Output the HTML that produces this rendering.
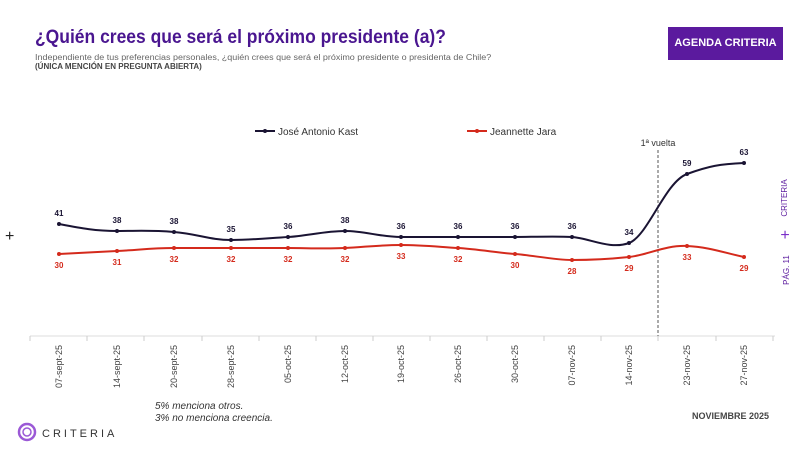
<!DOCTYPE html>
<html><head><meta charset="utf-8"><style>
body{margin:0;width:800px;height:450px;background:#fff;font-family:"Liberation Sans",sans-serif;position:relative;overflow:hidden}
.a{position:absolute;white-space:nowrap}
</style></head><body>
<div class="a" style="left:35px;top:27px;font-size:19px;font-weight:bold;color:#4a1690;transform:scaleX(0.92);transform-origin:left top;">¿Quién crees que será el próximo presidente (a)?</div>
<div class="a" style="left:35px;top:53px;font-size:8px;color:#666;transform:scaleX(1.12);transform-origin:left top;">Independiente de tus preferencias personales, ¿quién crees que será el próximo presidente o presidenta de Chile?</div>
<div class="a" style="left:35px;top:62px;font-size:8px;font-weight:bold;color:#444;">(ÚNICA MENCIÓN EN PREGUNTA ABIERTA)</div>
<div class="a" style="left:668px;top:27px;width:115px;height:33px;background:#5b1a9e;color:#fff;font-size:11px;font-weight:bold;text-align:center;line-height:33px;">AGENDA CRITERIA</div>
<div class="a" style="left:155px;top:401px;font-size:10px;font-style:italic;color:#333;line-height:12px;">5% menciona otros.<br>3% no menciona creencia.</div>
<div class="a" style="left:692px;top:411px;font-size:9px;font-weight:bold;color:#444;">NOVIEMBRE 2025</div>
<div class="a" style="left:5px;top:228px;font-size:16px;color:#222;">+</div>
<svg class="a" style="left:0;top:0" width="800" height="450">
<g transform="translate(787,198) rotate(-90)"><text text-anchor="middle" font-size="8" fill="#5b1a9e" font-family="Liberation Sans">CRITERIA</text></g>
<g transform="translate(789,270) rotate(-90)"><text text-anchor="middle" font-size="8" fill="#5b1a9e" font-family="Liberation Sans">PÁG. 11</text></g>
<text x="785" y="240" text-anchor="middle" font-size="16" fill="#7b2fc9">+</text>
<circle cx="27" cy="432" r="8" fill="none" stroke="#9b59d6" stroke-width="2.5"/>
<circle cx="27" cy="432" r="4" fill="none" stroke="#9b59d6" stroke-width="1.5"/>
<text x="42" y="437" font-size="11" letter-spacing="3" fill="#333" font-family="Liberation Sans">CRITERIA</text>
<line x1="255" y1="131" x2="275" y2="131" stroke="#1a1433" stroke-width="2"/><circle cx="265" cy="131" r="2" fill="#1a1433"/>
<text x="278" y="135" font-size="10" fill="#333">José Antonio Kast</text>
<line x1="467" y1="131" x2="487" y2="131" stroke="#d42a1c" stroke-width="2"/><circle cx="477" cy="131" r="2" fill="#d42a1c"/>
<text x="490" y="135" font-size="10" fill="#333">Jeannette Jara</text>
<line x1="30" y1="336" x2="775" y2="336" stroke="#ddd"/>
<g stroke="#ccc">
<line x1="30" y1="336" x2="30" y2="341"/><line x1="87" y1="336" x2="87" y2="341"/><line x1="144" y1="336" x2="144" y2="341"/><line x1="202" y1="336" x2="202" y2="341"/><line x1="259" y1="336" x2="259" y2="341"/><line x1="316" y1="336" x2="316" y2="341"/><line x1="373" y1="336" x2="373" y2="341"/><line x1="430" y1="336" x2="430" y2="341"/><line x1="487" y1="336" x2="487" y2="341"/><line x1="544" y1="336" x2="544" y2="341"/><line x1="601" y1="336" x2="601" y2="341"/><line x1="658" y1="336" x2="658" y2="341"/><line x1="716" y1="336" x2="716" y2="341"/><line x1="773" y1="336" x2="773" y2="341"/>
</g>
<line x1="658" y1="150" x2="658" y2="336" stroke="#555" stroke-dasharray="3,2"/>
<text x="658" y="146" text-anchor="middle" font-size="9" fill="#333">1ª vuelta</text>
<path d="M59,224 C80,228 95,231 117,231 S150,230 174,232 S210,240 231,240 S270,238 288,237 S325,231 345,231 S380,237 401,237 S440,237 458,237 S500,237 515,237 S555,236 572,237 S610,250 629,243 S665,182 687,174 S720,164 744,163" fill="none" stroke="#1a1433" stroke-width="2"/>
<path d="M59,254 C80,253 95,252 117,251 S150,248 174,248 S210,248 231,248 S270,248 288,248 S325,249 345,248 S380,245 401,245 S440,247 458,248 S500,253 515,254 S555,260 572,260 S610,259 629,257 S665,245 687,246 S725,253 744,257" fill="none" stroke="#d42a1c" stroke-width="2"/>
<g fill="#1a1433" font-size="8" font-weight="bold" text-anchor="middle">
<circle cx="59" cy="224" r="2"/><circle cx="117" cy="231" r="2"/><circle cx="174" cy="232" r="2"/><circle cx="231" cy="240" r="2"/><circle cx="288" cy="237" r="2"/><circle cx="345" cy="231" r="2"/><circle cx="401" cy="237" r="2"/><circle cx="458" cy="237" r="2"/><circle cx="515" cy="237" r="2"/><circle cx="572" cy="237" r="2"/><circle cx="629" cy="243" r="2"/><circle cx="687" cy="174" r="2"/><circle cx="744" cy="163" r="2"/>
<text x="59" y="216">41</text><text x="117" y="223">38</text><text x="174" y="224">38</text><text x="231" y="232">35</text><text x="288" y="229">36</text><text x="345" y="223">38</text><text x="401" y="229">36</text><text x="458" y="229">36</text><text x="515" y="229">36</text><text x="572" y="229">36</text><text x="629" y="235">34</text><text x="687" y="166">59</text><text x="744" y="155">63</text>
</g>
<g fill="#d42a1c" font-size="8" font-weight="bold" text-anchor="middle">
<circle cx="59" cy="254" r="2"/><circle cx="117" cy="251" r="2"/><circle cx="174" cy="248" r="2"/><circle cx="231" cy="248" r="2"/><circle cx="288" cy="248" r="2"/><circle cx="345" cy="248" r="2"/><circle cx="401" cy="245" r="2"/><circle cx="458" cy="248" r="2"/><circle cx="515" cy="254" r="2"/><circle cx="572" cy="260" r="2"/><circle cx="629" cy="257" r="2"/><circle cx="687" cy="246" r="2"/><circle cx="744" cy="257" r="2"/>
<text x="59" y="268">30</text><text x="117" y="265">31</text><text x="174" y="262">32</text><text x="231" y="262">32</text><text x="288" y="262">32</text><text x="345" y="262">32</text><text x="401" y="259">33</text><text x="458" y="262">32</text><text x="515" y="268">30</text><text x="572" y="274">28</text><text x="629" y="271">29</text><text x="687" y="260">33</text><text x="744" y="271">29</text>
</g>
<g fill="#444" font-size="9" text-anchor="end">
<text transform="translate(62,345) rotate(-90)">07-sept-25</text>
<text transform="translate(120,345) rotate(-90)">14-sept-25</text>
<text transform="translate(177,345) rotate(-90)">20-sept-25</text>
<text transform="translate(234,345) rotate(-90)">28-sept-25</text>
<text transform="translate(291,345) rotate(-90)">05-oct-25</text>
<text transform="translate(348,345) rotate(-90)">12-oct-25</text>
<text transform="translate(404,345) rotate(-90)">19-oct-25</text>
<text transform="translate(461,345) rotate(-90)">26-oct-25</text>
<text transform="translate(518,345) rotate(-90)">30-oct-25</text>
<text transform="translate(575,345) rotate(-90)">07-nov-25</text>
<text transform="translate(632,345) rotate(-90)">14-nov-25</text>
<text transform="translate(690,345) rotate(-90)">23-nov-25</text>
<text transform="translate(747,345) rotate(-90)">27-nov-25</text>
</g>
</svg>
</body></html>
